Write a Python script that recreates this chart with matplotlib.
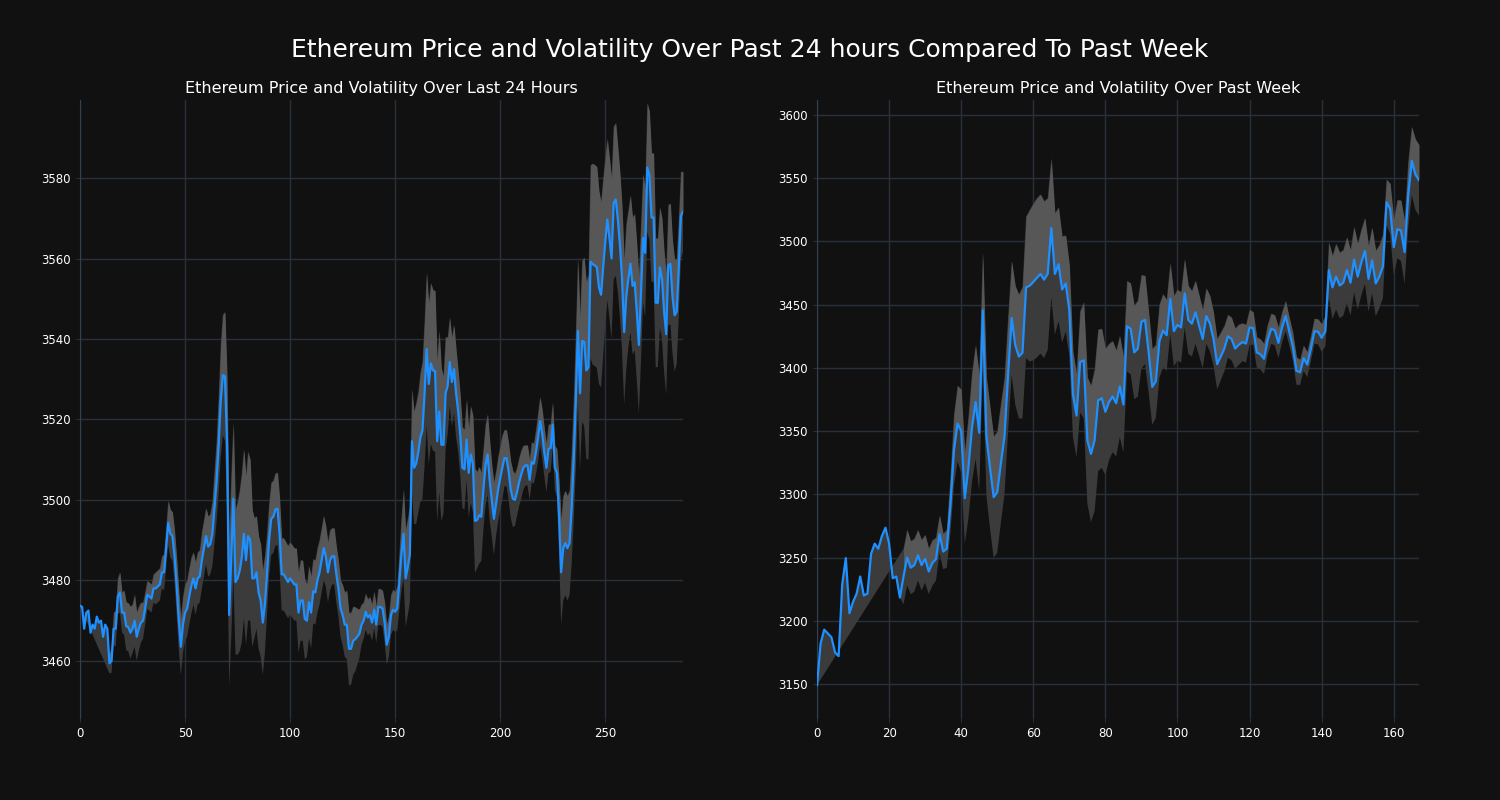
import numpy as np
import matplotlib
matplotlib.use('Agg')
import matplotlib.pyplot as plt
from matplotlib.ticker import MultipleLocator

# ---- last 24 hours (5 minute steps) ----
price_24h = [
    3473.7, 3473.4, 3468, 3472, 3472.5, 3467, 3469, 3468, 3471, 3469.5,
    3470, 3466, 3469, 3468, 3459.4, 3460, 3468, 3468, 3476, 3477,
    3472, 3472, 3468.6, 3468.4, 3467, 3468, 3470, 3466, 3468, 3469.5,
    3470, 3473, 3476.4, 3476, 3475.5, 3478, 3478, 3478.5, 3479, 3482,
    3482, 3488, 3494.3, 3491.6, 3491, 3486, 3478.7, 3470.4, 3463.5, 3469,
    3472, 3473, 3476, 3478.7, 3480.5, 3478, 3480.5, 3481, 3485, 3488,
    3491, 3488.4, 3489, 3491.6, 3498, 3504.5, 3513.7, 3524.8, 3531, 3530.7,
    3513.7, 3471.4, 3486, 3500.3, 3479.6, 3480.5, 3482.4, 3485.6, 3491.6, 3485,
    3491, 3490, 3480.5, 3480.5, 3482, 3477, 3475, 3469.5, 3474, 3481.5,
    3490, 3495.3, 3495.8, 3497.6, 3497.8, 3491.6, 3481.5, 3481.5, 3480.5, 3479.6,
    3480.5, 3479.8, 3479, 3479, 3472, 3475, 3475, 3470.4, 3470, 3474.6,
    3472, 3477.3, 3477, 3480, 3482, 3485, 3488, 3486, 3482, 3485,
    3486, 3486, 3481.5, 3478, 3473, 3471.4, 3469, 3469, 3463, 3463,
    3465, 3465.4, 3466, 3466.8, 3469, 3470, 3472.2, 3470.8, 3471.4, 3469.5,
    3472.7, 3469, 3473.4, 3473.4, 3473, 3469.5, 3464, 3466, 3471.4, 3472.7,
    3472.2, 3473, 3479.6, 3486.5, 3491.6, 3480.5, 3483.3, 3486.5, 3514.6, 3508,
    3509, 3511.8, 3515.5, 3517.3, 3526.5, 3537.5, 3528.8, 3533.9, 3532.2, 3532,
    3514.6, 3522, 3513.7, 3513.7, 3526.5, 3528.4, 3534.3, 3529.3, 3532.5, 3526.5,
    3522, 3516, 3508, 3507.6, 3515, 3506.7, 3511.3, 3509, 3494.8, 3495,
    3496.2, 3495.8, 3502.6, 3508.6, 3511.3, 3504.8, 3499.9, 3495.3, 3499, 3502.6,
    3505.4, 3508, 3510.4, 3510.4, 3507.1, 3502.6, 3500.3, 3500, 3502, 3504.4,
    3506.3, 3508, 3508.6, 3508.6, 3505, 3509.4, 3509, 3511.8, 3515.5, 3519.6,
    3516.4, 3511.8, 3508, 3512.7, 3512.9, 3518.7, 3508, 3506.7, 3496.2, 3482,
    3488, 3489.3, 3488, 3489.3, 3498, 3510, 3524.8, 3542, 3526.5, 3539.5,
    3539.3, 3532.2, 3533, 3559.2, 3558.6, 3558.3, 3557.8, 3552.8, 3551, 3557.8,
    3564.2, 3569.7, 3565.1, 3560, 3573.8, 3574.7, 3569.7, 3563.3, 3555, 3541.7,
    3550.5, 3555, 3558.7, 3553.2, 3554.1, 3546.8, 3538.5, 3551.4, 3565.1, 3561.4,
    3582.6, 3580.7, 3570.2, 3570.2, 3549, 3549, 3557.8, 3555, 3546.8, 3541.2,
    3558.3, 3558.7, 3550.5, 3545.9, 3546.8, 3557.8, 3570.6, 3571.6,
]

# rolling volatility, empty until the window fills
vol_24h = [np.nan] * 14 + [
    2.5, 3, 4, 4.5, 4.5, 5,
    5, 5.5, 6, 6, 6.5, 6, 6.5, 6, 5.5, 5,
    4.5, 4, 3.5, 3.5, 3.5, 3.5, 4, 4, 4, 4,
    4.5, 5, 5.5, 6, 6, 6.5, 7, 7.5, 7, 7,
    7, 7, 7, 7, 6.5, 6.5, 6.5, 6.5, 7, 7,
    7, 7.5, 7.5, 8, 9, 10, 12, 14, 15, 16,
    17, 18, 20, 19, 18, 19, 20, 21, 21, 21,
    21, 20, 17, 15, 14, 14, 14, 13, 12, 10,
    9, 9, 9, 9, 9, 9, 9, 9, 9, 9,
    9, 9, 9, 9, 10, 10, 10, 10, 9, 9,
    9, 8, 8, 8, 8, 8, 8, 7.5, 7.5, 7.5,
    7, 7, 7, 7, 7, 7.5, 8, 8.5, 9, 9,
    8.5, 8, 7, 6, 5, 4.5, 4.5, 4.5, 4.5, 4.5,
    4.5, 4.5, 4.5, 4.5, 4.5, 5, 5, 5, 5, 5,
    5, 5.5, 7, 9, 11, 12, 12, 12, 13, 14,
    15, 15, 16, 17, 18, 19, 20, 20, 20, 20,
    20, 20, 19, 17, 14, 12, 11, 11, 11, 11,
    10, 10, 10, 10, 10, 11, 12, 12, 13, 12,
    12, 11, 10, 10, 10, 10, 9, 9, 8, 8,
    8, 8, 7, 7, 7, 7, 7, 6.5, 6, 6,
    6, 5.5, 5, 5, 5, 5, 5, 5.5, 6, 6,
    6, 6, 6, 6, 6, 5.5, 5.5, 6, 9, 13,
    13, 13, 13, 13, 14, 15, 17, 18, 19, 20,
    21, 22, 23, 24, 25, 25, 25, 24, 23, 22,
    21, 20, 20, 20, 19, 19, 18, 18, 18, 18,
    18, 17, 17, 17, 17, 17, 17, 17, 16, 16,
    16, 16, 16, 16, 16, 16, 15, 15, 15, 15,
    15, 15, 14, 14, 13, 12, 11, 10,
]

# ---- past week (hourly) ----
price_week = [
    3149, 3182, 3193, 3190, 3187, 3175, 3172, 3229, 3249.6, 3206,
    3215, 3221.5, 3235, 3220, 3221.5, 3253, 3261, 3257, 3267, 3273.6,
    3261, 3233.6, 3235, 3218.4, 3235, 3250, 3242, 3244, 3251.8, 3244,
    3249, 3239, 3245.7, 3248.7, 3268.4, 3254.8, 3257, 3291, 3335, 3356,
    3350, 3297, 3321, 3353, 3373, 3348.7, 3445.6, 3345.6, 3321, 3297.8,
    3301.7, 3324.4, 3345.6, 3394, 3439.5, 3418, 3409, 3412, 3463.7, 3465,
    3468, 3471.3, 3474.3, 3469.8, 3474.3, 3510.7, 3474.3, 3482, 3462, 3466.8,
    3445.6, 3379, 3362.3, 3404.7, 3406, 3342.6, 3332, 3342.6, 3374.4, 3376,
    3365.3, 3373, 3377.4, 3372, 3385.3, 3371, 3432.9, 3431, 3412.3, 3415.3,
    3436.5, 3438, 3412.3, 3385, 3389.5, 3421.3, 3429.5, 3425.9, 3454.7, 3429,
    3434, 3432, 3459, 3438, 3435, 3444, 3433.5, 3422.9, 3441, 3435,
    3422.9, 3403, 3409, 3415.3, 3425, 3422.9, 3415.3, 3418.3, 3420.4, 3419.2,
    3432, 3431.4, 3412.3, 3410.8, 3407.2, 3422, 3431, 3429.8, 3419.8, 3432,
    3441, 3429, 3416.8, 3397.7, 3396.5, 3407.7, 3402.6, 3415.3, 3429, 3428.6,
    3423.8, 3429, 3477.3, 3463.7, 3472.2, 3465.2, 3467.4, 3477.4, 3467.4, 3485.6,
    3472.2, 3483.4, 3492.5, 3470.4, 3485, 3466.8, 3472.2, 3480.4, 3531, 3525.8,
    3495.5, 3509.8, 3508.6, 3491.6, 3536.4, 3563.7, 3553, 3548.5,
]

vol_week = [np.nan] * 24 + [
    22, 22, 21, 21, 20, 20,
    19, 18, 18, 17, 15, 14, 15, 22, 28, 30,
    33, 36, 40, 43, 45, 46, 46, 47, 48, 48,
    48, 47, 46, 45, 45, 47, 49, 52, 56, 60,
    62, 63, 63, 62, 60, 55, 48, 45, 42, 38,
    36, 34, 33, 40, 46, 50, 54, 56, 56, 55,
    50, 46, 44, 42, 40, 38, 36, 36, 37, 38,
    37, 35, 32, 30, 29, 29, 29, 28, 28, 28,
    28, 28, 27, 27, 26, 25, 24, 23, 22, 22,
    21, 20, 19, 18, 17, 17, 16, 16, 15, 15,
    14, 13, 12, 12, 12, 12, 12, 12, 12, 12,
    12, 11, 11, 11, 10, 10, 10, 10, 10, 10,
    11, 12, 22, 25, 26, 26, 26, 26, 26, 26,
    26, 26, 26, 26, 26, 26, 25, 25, 18, 20,
    22, 23, 24, 25, 26, 27, 28, 28,
]

bg = '#111111'
grid_c = '#28313b'


def draw(ax, price, vol, title, ylim, ystep, close_top=False):
    price = np.array(price, dtype=float)
    vol = np.array(vol, dtype=float)
    x = np.arange(len(price))
    hi = price + vol
    lo = price - vol
    k = int(np.argmax(~np.isnan(vol)))

    # whole band, the warm-up part is closed straight back to the first price
    if close_top:
        px = np.concatenate([x[:k], x[k:], x[k:][::-1], [k]])
        py = np.concatenate([price[:k], lo[k:], hi[k:][::-1], [hi[k]]])
    else:
        px = np.concatenate([x[:k], x[k:], x[k:][::-1]])
        py = np.concatenate([price[:k], hi[k:], lo[k:][::-1]])
    ax.fill(px, py, color='#3b3b3b', lw=0, zorder=2)
    # upper half a bit lighter
    ax.fill_between(x, price, hi, color='#575757', lw=0, zorder=2)

    ax.plot(x, price, color='#1e90ff', lw=1.6, zorder=3)

    ax.set_xlim(0, len(price) - 1)
    ax.set_ylim(*ylim)
    ax.yaxis.set_major_locator(MultipleLocator(ystep))
    ax.set_facecolor(bg)
    ax.grid(True, color=grid_c, lw=1)
    ax.set_axisbelow(True)
    for s in ['top', 'right', 'bottom']:
        ax.spines[s].set_visible(False)
    ax.spines['left'].set_color('#34404c')
    ax.tick_params(colors='white', labelsize=8.5, length=3)
    ax.tick_params(axis='both', color=grid_c)
    ax.set_title(title, color='white', fontsize=11.5, pad=5)


fig = plt.figure(figsize=(15, 8), dpi=100, facecolor=bg)
ax1 = fig.add_axes([80 / 1500, 82 / 800, 603 / 1500, 618 / 800])
ax2 = fig.add_axes([817 / 1500, 82 / 800, 602 / 1500, 618 / 800])

draw(ax1, price_24h, vol_24h, 'Ethereum Price and Volatility Over Last 24 Hours',
     (3445.8, 3599.4), 20)
draw(ax2, price_week, vol_week, 'Ethereum Price and Volatility Over Past Week',
     (3123.1, 3611.9), 50, close_top=True)
ax1.set_xticks([0, 50, 100, 150, 200, 250])
ax2.set_xticks([0, 20, 40, 60, 80, 100, 120, 140, 160])

fig.suptitle('Ethereum Price and Volatility Over Past 24 hours Compared To Past Week',
             color='white', fontsize=18, y=1 - 50 / 800, va='center')

fig.savefig('out.png', dpi=100, facecolor=bg)
